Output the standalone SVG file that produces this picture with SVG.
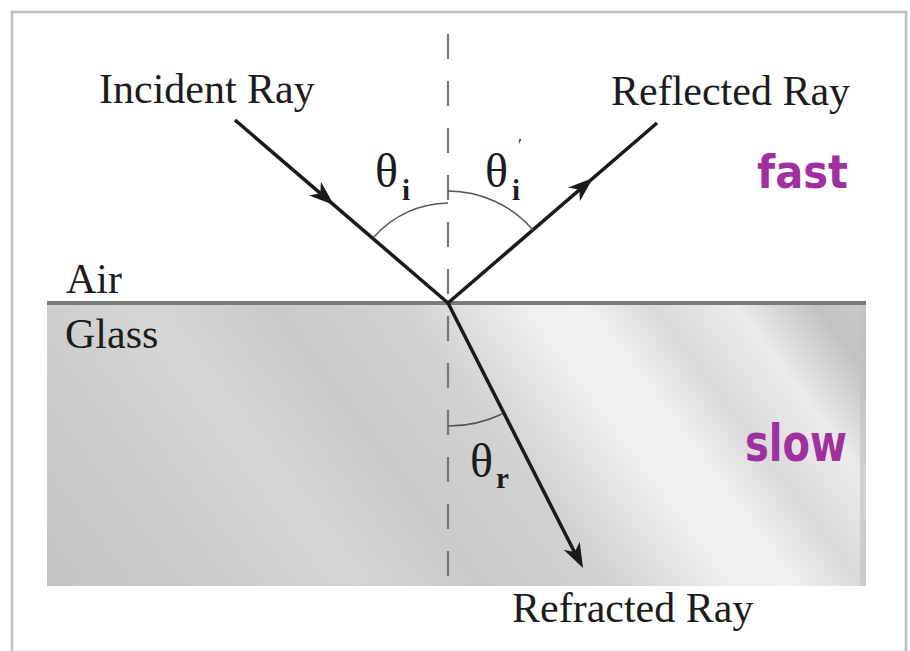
<svg xmlns="http://www.w3.org/2000/svg" width="910" height="651" viewBox="0 0 910 651">
<defs>
  <linearGradient id="glassGrad" gradientUnits="userSpaceOnUse" x1="-251" y1="188" x2="409" y2="-307">
    <stop offset="0" stop-color="#c4c4c4"/>
    <stop offset="0.18" stop-color="#cdcdcd"/>
    <stop offset="0.30" stop-color="#d6d6d6"/>
    <stop offset="0.42" stop-color="#cacaca"/>
    <stop offset="0.55" stop-color="#d2d2d2"/>
    <stop offset="0.66" stop-color="#eeeeee"/>
    <stop offset="0.72" stop-color="#f2f2f2"/>
    <stop offset="0.79" stop-color="#dadada"/>
    <stop offset="0.87" stop-color="#ebebeb"/>
    <stop offset="0.95" stop-color="#c2c2c2"/>
    <stop offset="1" stop-color="#cbcbcb"/>
  </linearGradient>
  <path id="arrowHead" d="M0,0 L-25,-9 L-18,0 L-25,9 Z"/>
  <style>
    .lbl { font-family: "Liberation Serif", "Times New Roman", serif; font-size: 42px; fill: #1c1c1c; }
    .theta { font-family: "Liberation Serif", "Times New Roman", serif; font-size: 48px; fill: #1c1c1c; }
    .sub { font-family: "Liberation Serif", "Times New Roman", serif; font-size: 29px; font-weight: bold; fill: #1c1c1c; }
    .hand { font-family: "DejaVu Sans", sans-serif; font-weight: bold; fill: #a0309f; }
    .ray { stroke: #1a1a1a; stroke-width: 3.5; fill: none; stroke-linecap: butt; }
    .arc { stroke: #555; stroke-width: 1.5; fill: none; }
    .head { fill: #1a1a1a; }
  </style>
</defs>

<!-- background and frame -->
<rect x="0" y="0" width="910" height="651" fill="#ffffff"/>
<rect x="12" y="12" width="894" height="640" fill="none" stroke="#bdbdbd" stroke-width="2.5"/>

<!-- glass block -->
<g id="glass">
  <rect x="47" y="303" width="819" height="283" fill="url(#glassGrad)"/>
  <rect x="860" y="303" width="6" height="283" fill="#c0c0c0" opacity="0.6"/>
</g>

<!-- interface line -->
<g id="interface">
  <line x1="47" y1="303" x2="866" y2="303" stroke="#7a7a7a" stroke-width="4"/>
</g>

<!-- normal -->
<g id="normal">
  <line x1="448" y1="34" x2="448" y2="585" stroke="#777" stroke-width="2.2" stroke-dasharray="25 22"/>
</g>

<!-- connectors: rays and angle arcs -->
<g id="connectors">
  <line class="ray" x1="235" y1="120" x2="448" y2="303"/>
  <line class="ray" x1="448" y1="303" x2="657" y2="123"/>
  <line class="ray" x1="448" y1="303" x2="577" y2="557"/>
  <use href="#arrowHead" class="head" transform="translate(334,205) rotate(40.7)"/>
  <use href="#arrowHead" class="head" transform="translate(593,178) rotate(-40.7)"/>
  <use href="#arrowHead" class="head" transform="translate(583,568) rotate(63.1)"/>
  <path class="arc" d="M374,237 A100,100 0 0,1 448,203"/>
  <path class="arc" d="M448,191 A112,112 0 0,1 533,230"/>
  <path class="arc" d="M448,426 A123,123 0 0,0 502,414"/>
</g>

<!-- labels -->
<g id="incident-label"><text class="lbl" x="99" y="103">Incident Ray</text></g>
<g id="reflected-label"><text class="lbl" x="611" y="105">Reflected Ray</text></g>
<g id="refracted-label"><text class="lbl" x="512" y="622">Refracted Ray</text></g>
<g id="air-label"><text class="lbl" x="66" y="293">Air</text></g>
<g id="glass-label"><text class="lbl" x="65" y="348">Glass</text></g>

<g id="theta-i">
  <text class="theta" x="375" y="187">θ</text>
  <text class="sub" x="402" y="200">i</text>
</g>
<g id="theta-i-prime">
  <text class="theta" x="485" y="187">θ</text>
  <text class="sub" x="512" y="200">i</text>
  <text class="sub" x="518" y="152" style="font-size:18px;font-weight:normal">′</text>
</g>
<g id="theta-r">
  <text class="theta" x="470" y="477">θ</text>
  <text class="sub" x="496" y="488">r</text>
</g>

<g id="fast-note"><text class="hand" x="757" y="188" font-size="46" textLength="91" lengthAdjust="spacingAndGlyphs">fast</text></g>
<g id="slow-note"><text class="hand" x="745" y="461" font-size="52" textLength="102" lengthAdjust="spacingAndGlyphs">slow</text></g>
</svg>
